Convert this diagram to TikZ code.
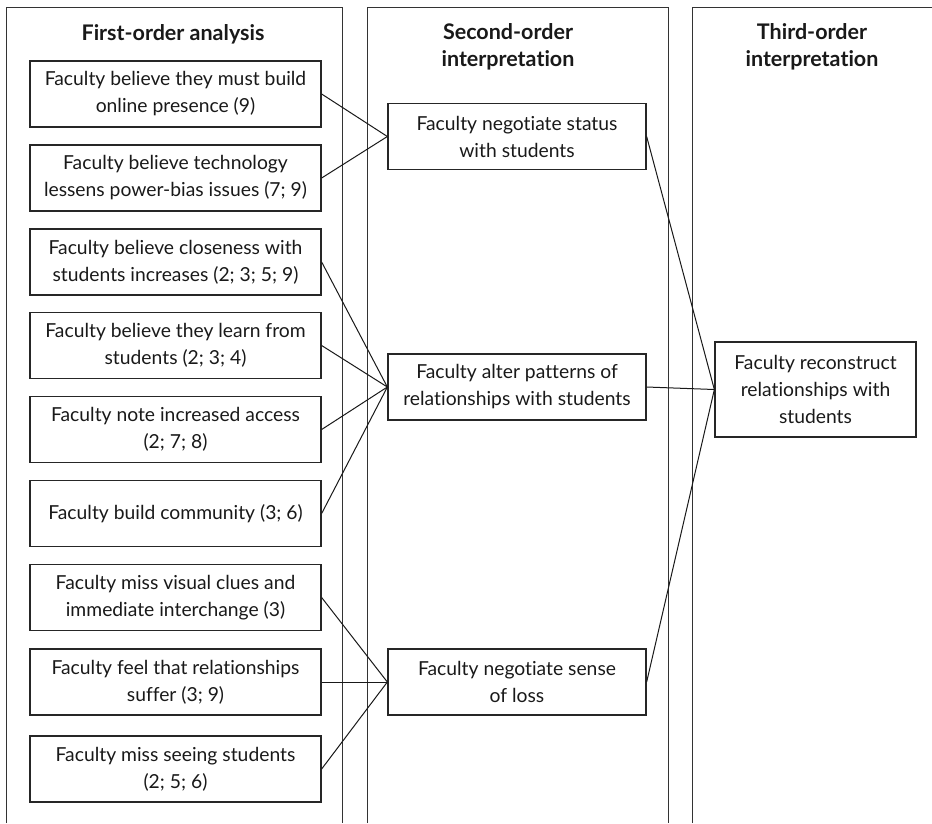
\documentclass[tikz,border=0pt]{standalone}
\usepackage{fontspec}
\setmainfont[Ligatures={NoCommon}]{Lato}
\begin{document}
\begin{tikzpicture}[x=1pt,y=-1pt,
  ink/.style={draw=black!85, line width=1.3pt},
  colframe/.style={draw=black!80, line width=1pt},
  link/.style={draw=black!90, line width=1pt},
  txt/.style={font=\fontsize{19.3}{27}\selectfont, text=black!90, align=center},
  hdr/.style={font=\fontsize{21.5}{27}\selectfont\bfseries, text=black!90, align=center},
  firstbox/.style={ink, txt, rectangle, inner sep=0pt, minimum width=291pt, minimum height=66pt},
  secondbox/.style={ink, txt, rectangle, inner sep=0pt, minimum width=258pt, minimum height=66pt},
  thirdbox/.style={ink, txt, rectangle, inner sep=0pt, minimum width=201pt, minimum height=95pt}
]
\useasboundingbox (0,0) rectangle (932,823);
% column frames (open at the bottom)
\draw[colframe] (6,823) -- (6,7) -- (342,7) -- (342,823);
\draw[colframe] (367,823) -- (367,7) -- (668,7) -- (668,823);
\draw[colframe] (692,823) -- (692,7) -- (940,7);
% headers
\node[hdr] (h1) at (173,34) {First-order analysis};
\node[hdr] (h2) at (508,46.5) {Second-order\\interpretation};
\node[hdr] (h3) at (812,46.5) {Third-order\\interpretation};
% first-order boxes
\node[firstbox] (f1) at (175.5,94) {Faculty believe they must build\\online presence (9)};
\node[firstbox] (f2) at (175.5,178) {Faculty believe technology\\lessens power-bias issues (7; 9)};
\node[firstbox] (f3) at (175.5,262) {Faculty believe closeness with\\students increases (2; 3; 5; 9)};
\node[firstbox] (f4) at (175.5,345.5) {Faculty believe they learn from\\students (2; 3; 4)};
\node[firstbox] (f5) at (175.5,429.5) {Faculty note increased access\\(2; 7; 8)};
\node[firstbox] (f6) at (175.5,513.5) {Faculty build community (3; 6)};
\node[firstbox] (f7) at (175.5,597.5) {Faculty miss visual clues and\\immediate interchange (3)};
\node[firstbox] (f8) at (175.5,682) {Faculty feel that relationships\\suffer (3; 9)};
\node[firstbox] (f9) at (175.5,769) {Faculty miss seeing students\\(2; 5; 6)};
% second-order boxes
\node[secondbox] (sa) at (517,136.5) {Faculty negotiate status\\with students};
\node[secondbox] (sb) at (517,387) {Faculty alter patterns of\\relationships with students};
\node[secondbox] (sc) at (517,682) {Faculty negotiate sense\\of loss};
% third-order box
\node[thirdbox] (td) at (815.5,389.5) {Faculty reconstruct\\relationships with\\students};
% connectors
\foreach \f in {f1,f2} \draw[link] (\f.east) -- (sa.west);
\foreach \f in {f3,f4,f5,f6} \draw[link] (\f.east) -- (sb.west);
\foreach \f in {f7,f8,f9} \draw[link] (\f.east) -- (sc.west);
\foreach \s in {sa,sb,sc} \draw[link] (\s.east) -- (td.west);
\end{tikzpicture}
\end{document}
